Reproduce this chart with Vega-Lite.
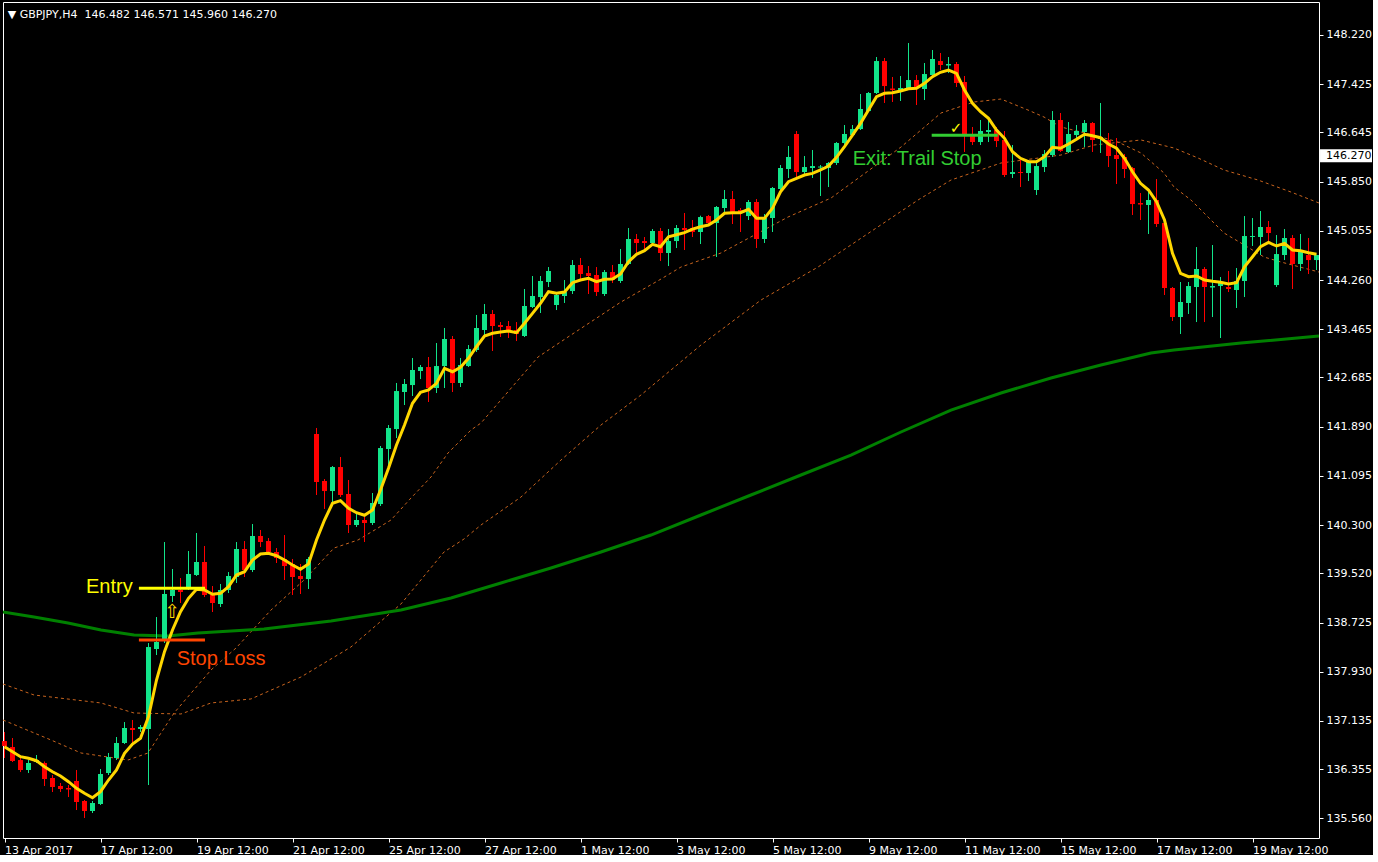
{
"$schema": "https://vega.github.io/schema/vega-lite/v6.json",
"width": 1316,
"height": 836,
"padding": {"left": 2, "top": 2, "right": 0, "bottom": 0},
"autosize": {"type": "pad"},
"background": "#000000",
"config": {
 "view": {"stroke": "#ffffff", "strokeWidth": 1},
 "axis": {"grid": false, "domain": false, "labelColor": "#ffffff", "tickColor": "#ffffff", "labelFont": "DejaVu Sans", "labelFontSize": 11, "tickSize": 4, "title": null}
},
"encoding": {
 "x": {"type": "quantitative", "scale": {"domain": [-0.1875, 164.3125], "nice": false, "zero": false, "padding": 0},
  "axis": {"orient": "bottom", "values": [0,12,24,36,48,60,72,84,96,108,120,132,144,156], "labelExpr": "['13 Apr 2017','17 Apr 12:00','19 Apr 12:00','21 Apr 12:00','25 Apr 12:00','27 Apr 12:00','1 May 12:00','3 May 12:00','5 May 12:00','9 May 12:00','11 May 12:00','15 May 12:00','17 May 12:00','19 May 12:00'][round(datum.value/12)]", "labelAlign": "left", "labelPadding": 2, "labelFlush": false, "labelOverlap": false, "labelBound": false}},
 "y": {"type": "quantitative", "scale": {"domain": [135.243, 148.753], "nice": false, "zero": false, "padding": 0},
  "axis": {"orient": "right", "values": [135.56,136.355,137.135,137.93,138.725,139.52,140.3,141.095,141.89,142.685,143.465,144.26,145.055,145.85,146.645,147.425,148.22], "format": ".3f", "labelPadding": 3, "labelFlush": false, "labelOverlap": false, "labelBound": false}}
},
"datasets": {
 "bars": [
{"i":0,"o":136.810,"h":136.956,"l":136.536,"c":136.730,"m":136.718},
{"i":1,"o":136.713,"h":136.859,"l":136.471,"c":136.487,"m":136.638},
{"i":2,"o":136.503,"h":136.536,"l":136.309,"c":136.342,"m":136.557},
{"i":3,"o":136.342,"h":136.503,"l":136.293,"c":136.455,"m":136.531},
{"i":4,"o":136.471,"h":136.584,"l":136.455,"c":136.503,"m":136.492},
{"i":5,"o":136.455,"h":136.480,"l":136.083,"c":136.196,"m":136.395},
{"i":6,"o":136.213,"h":136.261,"l":135.986,"c":136.067,"m":136.314},
{"i":7,"o":136.083,"h":136.132,"l":135.986,"c":136.035,"m":136.245},
{"i":8,"o":136.051,"h":136.099,"l":135.905,"c":136.027,"m":136.153},
{"i":9,"o":136.164,"h":136.342,"l":135.695,"c":135.825,"m":136.046},
{"i":10,"o":135.841,"h":135.857,"l":135.566,"c":135.679,"m":135.965},
{"i":11,"o":135.679,"h":135.841,"l":135.647,"c":135.809,"m":135.894},
{"i":12,"o":135.792,"h":136.358,"l":135.776,"c":136.277,"m":135.991},
{"i":13,"o":136.293,"h":136.617,"l":136.261,"c":136.552,"m":136.180},
{"i":14,"o":136.536,"h":136.875,"l":136.503,"c":136.778,"m":136.342},
{"i":15,"o":136.778,"h":137.117,"l":136.762,"c":137.021,"m":136.612},
{"i":16,"o":137.021,"h":137.150,"l":136.778,"c":136.988,"m":136.762},
{"i":17,"o":137.004,"h":137.069,"l":136.956,"c":137.037,"m":136.854},
{"i":18,"o":137.004,"h":138.394,"l":136.099,"c":138.329,"m":137.203},
{"i":19,"o":138.297,"h":138.814,"l":138.200,"c":138.410,"m":137.796},
{"i":20,"o":138.443,"h":140.026,"l":138.394,"c":139.186,"m":138.254},
{"i":21,"o":139.154,"h":139.590,"l":139.057,"c":139.251,"m":138.604},
{"i":22,"o":139.251,"h":139.445,"l":139.041,"c":139.218,"m":138.900},
{"i":23,"o":139.283,"h":139.881,"l":139.251,"c":139.509,"m":139.116},
{"i":24,"o":139.493,"h":140.172,"l":139.477,"c":139.703,"m":139.262},
{"i":25,"o":139.703,"h":139.962,"l":139.137,"c":139.170,"m":139.251},
{"i":26,"o":139.170,"h":139.315,"l":138.895,"c":139.041,"m":139.181},
{"i":27,"o":139.024,"h":139.348,"l":138.976,"c":139.251,"m":139.197},
{"i":28,"o":139.251,"h":139.541,"l":139.202,"c":139.477,"m":139.304},
{"i":29,"o":139.461,"h":140.026,"l":139.364,"c":139.913,"m":139.493},
{"i":30,"o":139.913,"h":140.042,"l":139.461,"c":139.574,"m":139.546},
{"i":31,"o":139.574,"h":140.317,"l":139.541,"c":140.123,"m":139.735},
{"i":32,"o":140.123,"h":140.220,"l":139.945,"c":140.026,"m":139.832},
{"i":33,"o":140.042,"h":140.091,"l":139.816,"c":139.865,"m":139.844},
{"i":34,"o":139.865,"h":139.929,"l":139.687,"c":139.768,"m":139.805},
{"i":35,"o":139.752,"h":140.139,"l":139.412,"c":139.638,"m":139.735},
{"i":36,"o":139.671,"h":139.752,"l":139.170,"c":139.461,"m":139.655},
{"i":37,"o":139.477,"h":139.671,"l":139.186,"c":139.428,"m":139.585},
{"i":38,"o":139.428,"h":139.784,"l":139.267,"c":139.752,"m":139.671},
{"i":39,"o":141.772,"h":141.869,"l":140.786,"c":140.996,"m":140.059},
{"i":40,"o":141.012,"h":141.044,"l":140.560,"c":140.850,"m":140.382},
{"i":41,"o":140.850,"h":141.254,"l":140.657,"c":141.238,"m":140.652},
{"i":42,"o":141.238,"h":141.400,"l":140.753,"c":140.786,"m":140.694},
{"i":43,"o":140.802,"h":141.028,"l":140.172,"c":140.301,"m":140.571},
{"i":44,"o":140.301,"h":140.479,"l":140.269,"c":140.382,"m":140.500},
{"i":45,"o":140.382,"h":140.430,"l":140.026,"c":140.333,"m":140.458},
{"i":46,"o":140.333,"h":140.818,"l":140.301,"c":140.657,"m":140.543},
{"i":47,"o":140.640,"h":141.578,"l":140.608,"c":141.545,"m":140.867},
{"i":48,"o":141.529,"h":141.917,"l":141.238,"c":141.869,"m":141.217},
{"i":49,"o":141.852,"h":142.596,"l":141.707,"c":142.466,"m":141.594},
{"i":50,"o":142.450,"h":142.660,"l":142.240,"c":142.580,"m":141.917},
{"i":51,"o":142.563,"h":143.000,"l":142.386,"c":142.806,"m":142.268},
{"i":52,"o":142.790,"h":142.887,"l":142.660,"c":142.854,"m":142.445},
{"i":53,"o":142.854,"h":143.016,"l":142.289,"c":142.515,"m":142.483},
{"i":54,"o":142.515,"h":143.242,"l":142.434,"c":142.870,"m":142.591},
{"i":55,"o":142.870,"h":143.485,"l":142.515,"c":143.307,"m":142.833},
{"i":56,"o":143.307,"h":143.355,"l":142.450,"c":142.596,"m":142.778},
{"i":57,"o":142.596,"h":143.000,"l":142.531,"c":142.887,"m":142.849},
{"i":58,"o":142.870,"h":143.210,"l":142.854,"c":143.145,"m":142.995},
{"i":59,"o":143.129,"h":143.695,"l":143.097,"c":143.485,"m":143.182},
{"i":60,"o":143.452,"h":143.872,"l":143.371,"c":143.711,"m":143.355},
{"i":61,"o":143.711,"h":143.775,"l":143.113,"c":143.517,"m":143.399},
{"i":62,"o":143.533,"h":143.581,"l":143.339,"c":143.501,"m":143.420},
{"i":63,"o":143.517,"h":143.598,"l":143.323,"c":143.452,"m":143.436},
{"i":64,"o":143.452,"h":143.581,"l":143.274,"c":143.388,"m":143.409},
{"i":65,"o":143.355,"h":144.115,"l":143.339,"c":143.840,"m":143.561},
{"i":66,"o":143.824,"h":144.325,"l":143.808,"c":144.002,"m":143.722},
{"i":67,"o":143.985,"h":144.325,"l":143.727,"c":144.244,"m":143.884},
{"i":68,"o":144.228,"h":144.470,"l":144.147,"c":144.406,"m":144.071},
{"i":69,"o":143.856,"h":144.066,"l":143.775,"c":144.018,"m":144.045},
{"i":70,"o":144.002,"h":144.260,"l":143.889,"c":144.066,"m":144.066},
{"i":71,"o":144.082,"h":144.583,"l":144.034,"c":144.503,"m":144.217},
{"i":72,"o":144.503,"h":144.616,"l":144.276,"c":144.357,"m":144.260},
{"i":73,"o":144.373,"h":144.486,"l":144.034,"c":144.325,"m":144.288},
{"i":74,"o":144.341,"h":144.470,"l":144.002,"c":144.066,"m":144.233},
{"i":75,"o":144.034,"h":144.422,"l":144.002,"c":144.389,"m":144.272},
{"i":76,"o":144.389,"h":144.503,"l":144.212,"c":144.260,"m":144.276},
{"i":77,"o":144.244,"h":144.761,"l":144.212,"c":144.519,"m":144.357},
{"i":78,"o":144.519,"h":145.101,"l":144.503,"c":144.923,"m":144.556},
{"i":79,"o":144.923,"h":145.004,"l":144.697,"c":144.858,"m":144.676},
{"i":80,"o":144.890,"h":144.955,"l":144.745,"c":144.858,"m":144.734},
{"i":81,"o":144.858,"h":145.084,"l":144.842,"c":145.052,"m":144.837},
{"i":82,"o":145.052,"h":145.101,"l":144.567,"c":144.697,"m":144.798},
{"i":83,"o":144.697,"h":145.084,"l":144.486,"c":144.890,"m":144.960},
{"i":84,"o":144.890,"h":145.149,"l":144.777,"c":145.101,"m":144.992},
{"i":85,"o":145.101,"h":145.343,"l":144.745,"c":145.068,"m":145.025},
{"i":86,"o":145.101,"h":145.230,"l":144.955,"c":145.036,"m":145.084},
{"i":87,"o":145.036,"h":145.300,"l":144.842,"c":145.278,"m":145.122},
{"i":88,"o":145.294,"h":145.311,"l":145.149,"c":145.181,"m":145.149},
{"i":89,"o":145.181,"h":145.456,"l":144.632,"c":145.440,"m":145.230},
{"i":90,"o":145.424,"h":145.715,"l":145.359,"c":145.569,"m":145.338},
{"i":91,"o":145.569,"h":145.698,"l":145.165,"c":145.327,"m":145.348},
{"i":92,"o":145.391,"h":145.424,"l":145.036,"c":145.359,"m":145.348},
{"i":93,"o":145.294,"h":145.553,"l":145.230,"c":145.521,"m":145.403},
{"i":94,"o":145.521,"h":145.569,"l":144.777,"c":144.923,"m":145.257},
{"i":95,"o":144.923,"h":145.327,"l":144.858,"c":145.262,"m":145.257},
{"i":96,"o":145.262,"h":145.763,"l":145.036,"c":145.747,"m":145.419},
{"i":97,"o":145.731,"h":146.119,"l":145.715,"c":146.070,"m":145.687},
{"i":98,"o":146.054,"h":146.426,"l":145.909,"c":146.248,"m":145.849},
{"i":99,"o":146.620,"h":146.668,"l":145.925,"c":146.005,"m":145.904},
{"i":100,"o":146.005,"h":146.264,"l":145.941,"c":146.086,"m":145.957},
{"i":101,"o":146.070,"h":146.361,"l":145.909,"c":146.102,"m":145.984},
{"i":102,"o":146.078,"h":146.119,"l":145.618,"c":146.094,"m":146.038},
{"i":103,"o":146.070,"h":146.167,"l":145.763,"c":146.151,"m":146.102},
{"i":104,"o":146.151,"h":146.490,"l":146.119,"c":146.474,"m":146.243},
{"i":105,"o":146.474,"h":146.765,"l":146.442,"c":146.620,"m":146.414},
{"i":106,"o":146.603,"h":146.765,"l":146.571,"c":146.700,"m":146.603},
{"i":107,"o":146.700,"h":147.266,"l":146.684,"c":147.024,"m":146.792},
{"i":108,"o":146.991,"h":147.298,"l":146.975,"c":147.282,"m":147.007},
{"i":109,"o":147.282,"h":147.864,"l":147.266,"c":147.799,"m":147.222},
{"i":110,"o":147.799,"h":147.848,"l":147.121,"c":147.395,"m":147.277},
{"i":111,"o":147.355,"h":147.541,"l":147.137,"c":147.331,"m":147.287},
{"i":112,"o":147.298,"h":147.557,"l":147.153,"c":147.363,"m":147.314},
{"i":113,"o":147.347,"h":148.090,"l":147.331,"c":147.492,"m":147.352},
{"i":114,"o":147.492,"h":147.573,"l":147.088,"c":147.379,"m":147.358},
{"i":115,"o":147.347,"h":147.767,"l":147.169,"c":147.589,"m":147.439},
{"i":116,"o":147.573,"h":147.977,"l":147.541,"c":147.832,"m":147.546},
{"i":117,"o":147.799,"h":147.929,"l":147.654,"c":147.735,"m":147.617},
{"i":118,"o":147.727,"h":147.864,"l":147.605,"c":147.751,"m":147.654},
{"i":119,"o":147.751,"h":147.783,"l":147.379,"c":147.444,"m":147.600},
{"i":120,"o":147.460,"h":147.557,"l":146.329,"c":146.587,"m":147.331},
{"i":121,"o":146.587,"h":146.733,"l":146.442,"c":146.490,"m":147.116},
{"i":122,"o":146.490,"h":146.846,"l":146.442,"c":146.668,"m":146.980},
{"i":123,"o":146.652,"h":146.878,"l":146.490,"c":146.684,"m":146.873},
{"i":124,"o":146.684,"h":146.733,"l":146.409,"c":146.506,"m":146.684},
{"i":125,"o":146.523,"h":146.668,"l":145.925,"c":145.957,"m":146.550},
{"i":126,"o":145.973,"h":146.442,"l":145.909,"c":146.005,"m":146.334},
{"i":127,"o":146.005,"h":146.199,"l":145.763,"c":145.989,"m":146.227},
{"i":128,"o":145.989,"h":146.199,"l":145.860,"c":146.167,"m":146.172},
{"i":129,"o":145.715,"h":146.199,"l":145.634,"c":146.102,"m":146.172},
{"i":130,"o":146.086,"h":146.361,"l":146.005,"c":146.296,"m":146.253},
{"i":131,"o":146.280,"h":146.991,"l":146.248,"c":146.846,"m":146.405},
{"i":132,"o":146.846,"h":146.959,"l":146.329,"c":146.345,"m":146.389},
{"i":133,"o":146.329,"h":146.813,"l":146.313,"c":146.620,"m":146.458},
{"i":134,"o":146.603,"h":146.765,"l":146.555,"c":146.668,"m":146.534},
{"i":135,"o":146.652,"h":146.846,"l":146.409,"c":146.797,"m":146.615},
{"i":136,"o":146.797,"h":146.813,"l":146.329,"c":146.523,"m":146.592},
{"i":137,"o":146.539,"h":147.121,"l":146.313,"c":146.571,"m":146.560},
{"i":138,"o":146.523,"h":146.636,"l":146.086,"c":146.264,"m":146.458},
{"i":139,"o":146.280,"h":146.555,"l":145.812,"c":146.216,"m":146.389},
{"i":140,"o":146.248,"h":146.296,"l":145.909,"c":146.054,"m":146.227},
{"i":141,"o":146.070,"h":146.086,"l":145.311,"c":145.488,"m":146.010},
{"i":142,"o":145.505,"h":145.666,"l":145.230,"c":145.480,"m":145.823},
{"i":143,"o":145.472,"h":145.698,"l":145.004,"c":145.553,"m":145.715},
{"i":144,"o":145.553,"h":145.892,"l":145.117,"c":145.165,"m":145.526},
{"i":145,"o":145.181,"h":145.197,"l":144.018,"c":144.131,"m":145.230},
{"i":146,"o":144.131,"h":144.147,"l":143.598,"c":143.662,"m":144.692},
{"i":147,"o":143.662,"h":144.228,"l":143.388,"c":143.905,"m":144.368},
{"i":148,"o":143.889,"h":144.228,"l":143.711,"c":144.163,"m":144.314},
{"i":149,"o":144.147,"h":144.793,"l":143.581,"c":144.438,"m":144.325},
{"i":150,"o":144.438,"h":144.470,"l":143.581,"c":144.147,"m":144.260},
{"i":151,"o":144.139,"h":144.826,"l":143.662,"c":144.163,"m":144.239},
{"i":152,"o":144.163,"h":144.309,"l":143.323,"c":144.228,"m":144.223},
{"i":153,"o":144.147,"h":144.406,"l":144.066,"c":144.115,"m":144.196},
{"i":154,"o":144.099,"h":144.454,"l":143.808,"c":144.244,"m":144.217},
{"i":155,"o":144.244,"h":145.294,"l":143.985,"c":144.971,"m":144.475},
{"i":156,"o":144.955,"h":145.262,"l":144.810,"c":144.971,"m":144.637},
{"i":157,"o":144.955,"h":145.375,"l":144.664,"c":145.117,"m":144.798},
{"i":158,"o":145.117,"h":145.214,"l":144.858,"c":145.020,"m":144.869},
{"i":159,"o":144.179,"h":144.987,"l":144.147,"c":144.680,"m":144.810},
{"i":160,"o":144.664,"h":145.084,"l":144.583,"c":144.939,"m":144.853},
{"i":161,"o":144.939,"h":144.987,"l":144.115,"c":144.519,"m":144.745},
{"i":162,"o":144.519,"h":145.004,"l":144.406,"c":144.713,"m":144.734},
{"i":163,"o":144.664,"h":144.939,"l":144.357,"c":144.583,"m":144.701},
{"i":164,"o":144.583,"h":144.670,"l":144.422,"c":144.664,"m":144.676}
 ],
 "maA": [
{"i":-0.19,"v":137.150},{"i":5.81,"v":136.827},{"i":9.56,"v":136.617},{"i":15.44,"v":136.503},{"i":17.94,"v":136.617},{"i":21.19,"v":137.263},{"i":25.81,"v":137.958},{"i":28.94,"v":138.313},{"i":33.31,"v":138.927},{"i":37.44,"v":139.412},{"i":41.19,"v":139.929},{"i":44.19,"v":140.059},{"i":46.69,"v":140.253},{"i":48.31,"v":140.382},{"i":50.81,"v":140.737},{"i":53.31,"v":141.077},{"i":55.44,"v":141.465},{"i":58.31,"v":141.836},{"i":59.56,"v":141.949},{"i":66.69,"v":143.016},{"i":71.19,"v":143.404},{"i":77.06,"v":143.905},{"i":82.06,"v":144.276},{"i":84.56,"v":144.470},{"i":89.56,"v":144.697},{"i":97.94,"v":145.278},{"i":103.31,"v":145.585},{"i":112.06,"v":146.409},{"i":117.06,"v":146.959},{"i":121.19,"v":147.137},{"i":124.56,"v":147.185},{"i":127.94,"v":147.007},{"i":129.94,"v":146.894},{"i":132.06,"v":146.733},{"i":137.06,"v":146.571},{"i":139.19,"v":146.490},{"i":142.06,"v":146.313},{"i":144.94,"v":145.989},{"i":146.19,"v":145.763},{"i":148.31,"v":145.553},{"i":150.44,"v":145.278},{"i":152.44,"v":145.020},{"i":154.56,"v":144.858},{"i":157.44,"v":144.632},{"i":159.56,"v":144.551},{"i":164.31,"v":144.389}
 ],
 "maB": [
{"i":-0.19,"v":137.732},{"i":3.69,"v":137.554},{"i":12.06,"v":137.425},{"i":16.19,"v":137.263},{"i":22.06,"v":137.247},{"i":25.81,"v":137.425},{"i":30.81,"v":137.490},{"i":37.06,"v":137.845},{"i":43.31,"v":138.330},{"i":49.56,"v":139.025},{"i":54.94,"v":139.865},{"i":57.44,"v":140.075},{"i":59.56,"v":140.301},{"i":64.56,"v":140.753},{"i":69.56,"v":141.351},{"i":74.56,"v":141.917},{"i":79.56,"v":142.402},{"i":87.06,"v":143.210},{"i":94.56,"v":143.937},{"i":101.69,"v":144.470},{"i":114.19,"v":145.553},{"i":118.31,"v":145.876},{"i":124.56,"v":146.151},{"i":132.06,"v":146.280},{"i":136.19,"v":146.442},{"i":142.06,"v":146.523},{"i":146.19,"v":146.393},{"i":149.19,"v":146.232},{"i":152.44,"v":146.038},{"i":156.69,"v":145.876},{"i":160.81,"v":145.682},{"i":164.31,"v":145.505}
 ],
 "maG": [
{"i":-0.19,"v":138.895},{"i":3.69,"v":138.814},{"i":7.94,"v":138.717},{"i":12.06,"v":138.604},{"i":16.19,"v":138.523},{"i":20.44,"v":138.507},{"i":24.19,"v":138.556},{"i":32.44,"v":138.620},{"i":40.81,"v":138.750},{"i":49.56,"v":138.927},{"i":55.81,"v":139.121},{"i":62.06,"v":139.364},{"i":68.31,"v":139.606},{"i":74.56,"v":139.865},{"i":80.81,"v":140.139},{"i":87.06,"v":140.463},{"i":93.31,"v":140.786},{"i":99.56,"v":141.109},{"i":105.81,"v":141.432},{"i":112.06,"v":141.804},{"i":118.31,"v":142.159},{"i":124.56,"v":142.434},{"i":130.81,"v":142.677},{"i":137.06,"v":142.887},{"i":143.31,"v":143.081},{"i":146.19,"v":143.129},{"i":154.56,"v":143.242},{"i":164.31,"v":143.355}
 ],
 "ann": [
  {"k":"entry","a":16.8,"b":25.06,"p":139.278},
  {"k":"stop","a":16.8,"b":25.06,"p":138.443},
  {"k":"exit","a":115.9,"b":124.15,"p":146.599}
 ],
 "labels": [
  {"k":"entry","a":10.19,"p":139.207,"t":"Entry"},
  {"k":"stop","a":21.52,"p":138.039,"t":"Stop Loss"},
  {"k":"exit","a":106.02,"p":146.119,"t":"Exit: Trail Stop"}
 ]
},
"layer": [
 {
  "data": {"name": "maA"},
  "mark": {"type": "line", "color": "#c8641e", "strokeWidth": 1, "strokeDash": [3, 3], "clip": true},
  "encoding": {"x": {"field": "i"}, "y": {"field": "v"}}
 },
 {
  "data": {"name": "maB"},
  "mark": {"type": "line", "color": "#c8641e", "strokeWidth": 1, "strokeDash": [3, 3], "clip": true},
  "encoding": {"x": {"field": "i"}, "y": {"field": "v"}}
 },
 {
  "data": {"name": "maG"},
  "mark": {"type": "line", "color": "#008000", "strokeWidth": 3, "clip": true},
  "encoding": {"x": {"field": "i"}, "y": {"field": "v"}}
 },
 {
  "data": {"name": "bars"},
  "mark": {"type": "rule", "strokeWidth": 1},
  "encoding": {
   "x": {"field": "i"},
   "y": {"field": "l"},
   "y2": {"field": "h"},
   "color": {"condition": {"test": "datum.c >= datum.o", "value": "#12e48a"}, "value": "#ff0000"}
  }
 },
 {
  "data": {"name": "bars"},
  "mark": {"type": "bar", "width": 5},
  "encoding": {
   "x": {"field": "i"},
   "y": {"field": "o"},
   "y2": {"field": "c"},
   "color": {"condition": {"test": "datum.c >= datum.o", "value": "#12e48a"}, "value": "#ff0000"}
  }
 },
 {
  "data": {"name": "bars"},
  "mark": {"type": "line", "color": "#ffd700", "strokeWidth": 3, "clip": true},
  "encoding": {"x": {"field": "i"}, "y": {"field": "m"}}
 },
 {
  "data": {"name": "ann"},
  "mark": {"type": "rule", "strokeWidth": 3},
  "encoding": {
   "x": {"field": "a"},
   "x2": {"field": "b"},
   "y": {"field": "p"},
   "color": {"field": "k", "type": "nominal", "scale": {"domain": ["entry", "stop", "exit"], "range": ["#ffff00", "#ff4500", "#32cd32"]}, "legend": null}
  }
 },
 {
  "data": {"name": "labels"},
  "mark": {"type": "text", "font": "Liberation Sans", "fontSize": 20, "align": "left", "baseline": "alphabetic"},
  "encoding": {
   "x": {"field": "a"},
   "y": {"field": "p"},
   "text": {"field": "t"},
   "color": {"field": "k", "type": "nominal", "scale": {"domain": ["entry", "stop", "exit"], "range": ["#ffff00", "#ff4500", "#32cd32"]}, "legend": null}
  }
 },
 {
  "data": {"values": [{"a": 118.94, "p": 146.717, "t": "✓"}]},
  "mark": {"type": "text", "color": "#ffff00", "font": "DejaVu Sans", "fontSize": 15, "fontWeight": "bold", "align": "center", "baseline": "middle"},
  "encoding": {"x": {"field": "a"}, "y": {"field": "p"}, "text": {"field": "t"}}
 },
 {
  "data": {"values": [{"a": 20.94, "p": 138.895, "t": "⇧"}]},
  "mark": {"type": "text", "color": "#ffd700", "font": "DejaVu Sans", "fontSize": 19, "align": "center", "baseline": "middle"},
  "encoding": {"x": {"field": "a"}, "y": {"field": "p"}, "text": {"field": "t"}}
 },
 {
  "data": {"values": [{"a": 0.4, "p": 148.502, "t": "▼\u00a0GBPJPY,H4\u00a0\u00a0146.482\u00a0146.571\u00a0145.960\u00a0146.270"}]},
  "mark": {"type": "text", "color": "#ffffff", "font": "DejaVu Sans", "fontSize": 11, "align": "left", "baseline": "alphabetic"},
  "encoding": {"x": {"field": "a"}, "y": {"field": "p"}, "text": {"field": "t"}}
 },
 {
  "data": {"values": [{"a": 164.44, "b": 170.94, "p": 146.375, "q": 146.165}]},
  "mark": {"type": "rect", "color": "#ffffff"},
  "encoding": {"x": {"field": "a"}, "x2": {"field": "b"}, "y": {"field": "p"}, "y2": {"field": "q"}}
 },
 {
  "data": {"values": [{"a": 165.2, "p": 146.27, "t": "146.270"}]},
  "mark": {"type": "text", "color": "#000000", "font": "DejaVu Sans", "fontSize": 11, "align": "left", "baseline": "middle"},
  "encoding": {"x": {"field": "a"}, "y": {"field": "p"}, "text": {"field": "t"}}
 }
]
}
